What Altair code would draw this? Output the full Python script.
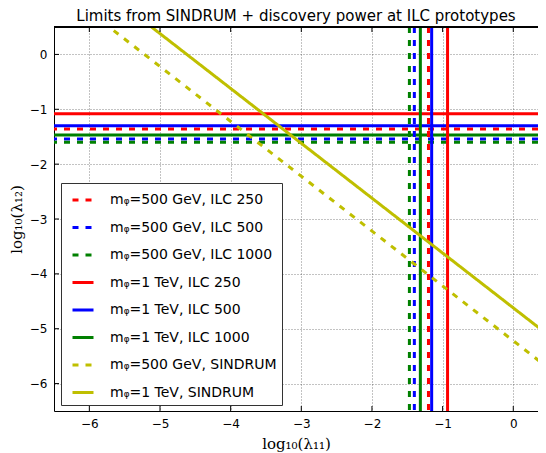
import altair as alt
import pandas as pd

# ---- data ----
series = [
    "mᵩ=500 GeV, ILC 250",
    "mᵩ=500 GeV, ILC 500",
    "mᵩ=500 GeV, ILC 1000",
    "mᵩ=1 TeV, ILC 250",
    "mᵩ=1 TeV, ILC 500",
    "mᵩ=1 TeV, ILC 1000",
    "mᵩ=500 GeV, SINDRUM",
    "mᵩ=1 TeV, SINDRUM",
]
colors = ["#ff0000", "#0000ff", "#008000", "#ff0000", "#0000ff", "#008000", "#bfbf00", "#bfbf00"]
dashes = [[6, 7], [6, 7], [6, 7], [1, 0], [1, 0], [1, 0], [6, 7], [1, 0]]

ilc_series = series[:6]
lam12_limit = [-1.36, -1.54, -1.60, -1.08, -1.30, -1.47]   # horizontal lines
lam11_limit = [-1.20, -1.40, -1.47, -0.93, -1.155, -1.315]  # vertical lines

sind500_x = [-5.8, 0.5]
sind500_y = [0.58, -5.72]
sind1000_x = [-5.2, 0.5]
sind1000_y = [0.58, -5.12]

x_ticks = [-6, -5, -4, -3, -2, -1, 0]
y_ticks = [-6, -5, -4, -3, -2, -1, 0]

W, H = 484, 384
XDOM = [-6.5, 0.35]
YDOM = [-6.5, 0.5]

ilc_df = pd.DataFrame({"s": ilc_series, "y": lam12_limit, "x": lam11_limit})
sind_df = pd.DataFrame({
    "s": [series[6]] * 2 + [series[7]] * 2,
    "x": sind500_x + sind1000_x,
    "y": sind500_y + sind1000_y,
})
xt_df = pd.DataFrame({"x": x_ticks})
yt_df = pd.DataFrame({"y": y_ticks})

xscale = alt.Scale(domain=XDOM, nice=False, zero=False)
yscale = alt.Scale(domain=YDOM, nice=False, zero=False)
XT = "log₁₀(λ₁₁)"
YT = "log₁₀(λ₁₂)"


def X(f="x"):
    return alt.X(f"{f}:Q", scale=xscale, title=XT,
                 axis=alt.Axis(values=x_ticks, format="d", titlePadding=7, labelPadding=7))


def Y(f="y"):
    return alt.Y(f"{f}:Q", scale=yscale, title=YT,
                 axis=alt.Axis(values=y_ticks, format="d", titlePadding=5, labelPadding=7))


leg = alt.Legend(
    title=None, orient="none", legendX=7, legendY=156,
    symbolType="stroke", symbolSize=441, symbolStrokeWidth=3, symbolOffset=5,
    labelFont="DejaVu Sans", labelFontSize=14, labelColor="black",
    labelOffset=15, rowPadding=8.5, padding=5, labelLimit=400,
    strokeColor="#333", fillColor="white",
)
col = alt.Color("s:N", scale=alt.Scale(domain=series, range=colors), legend=leg)
dash = alt.StrokeDash("s:N", scale=alt.Scale(domain=series, range=dashes), legend=leg)

hlines = alt.Chart(ilc_df).mark_rule(strokeWidth=3, clip=True).encode(
    y=Y("y"), color=col, strokeDash=dash)
vlines = alt.Chart(ilc_df).mark_rule(strokeWidth=3, clip=True).encode(
    x=X("x"), color=col, strokeDash=dash)
diag = alt.Chart(sind_df).mark_line(strokeWidth=3, clip=True).encode(
    x=X("x"), y=Y("y"), color=col, strokeDash=dash, detail="s:N")

tick_style = dict(color="black", strokeWidth=1)
left_ticks = alt.Chart(yt_df).mark_rule(**tick_style).encode(
    y=Y("y"), x=alt.value(0), x2=alt.value(5))
bottom_ticks = alt.Chart(xt_df).mark_rule(**tick_style).encode(
    x=X("x"), y=alt.value(H), y2=alt.value(H - 5))
top_ticks = alt.Chart(xt_df).mark_rule(**tick_style).encode(
    x=X("x"), y=alt.value(0), y2=alt.value(5))
top_border = alt.Chart(xt_df).mark_rule(color="black", strokeWidth=1).encode(
    x=alt.value(0), x2=alt.value(W), y=alt.value(0))

chart = alt.layer(
    hlines, vlines, diag, left_ticks, bottom_ticks, top_ticks, top_border
).properties(
    width=W, height=H,
    title=alt.Title("Limits from SINDRUM + discovery power at ILC prototypes",
                    font="DejaVu Sans", fontSize=15, fontWeight="normal",
                    color="black", anchor="middle", offset=3),
    autosize=alt.AutoSizeParams(type="none"),
    padding={"left": 46, "top": 19, "right": 0, "bottom": 42},
).configure_view(stroke=None).configure_axis(
    grid=True, gridColor="black", gridOpacity=0.6, gridDash=[1, 2], gridWidth=0.8,
    domainColor="black", domainWidth=1, ticks=False,
    labelFont="DejaVu Sans", labelFontSize=12, labelColor="black",
    titleFont="DejaVu Serif", titleFontSize=15, titleFontWeight="normal", titleColor="black",
)

chart.save("out.html", embed_options={"renderer": "svg", "actions": False})
